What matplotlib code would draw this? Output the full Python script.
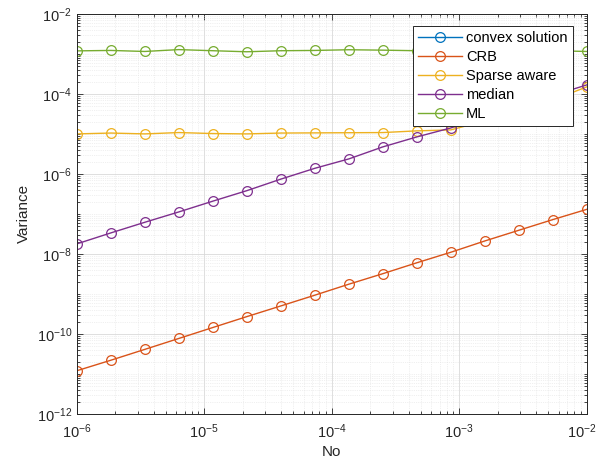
import numpy as np
import matplotlib
matplotlib.use("Agg")
import matplotlib.pyplot as plt
import matplotlib.transforms as mtransforms
from matplotlib.ticker import LogLocator, FixedLocator, NullFormatter

plt.rcParams['font.family'] = ['Liberation Sans', 'DejaVu Sans']
plt.rcParams['mathtext.default'] = 'regular'

No = [1.0e-6, 1.85e-6, 3.41e-6, 6.31e-6, 1.17e-5, 2.15e-5, 3.98e-5, 7.36e-5,
      1.36e-4, 2.51e-4, 4.64e-4, 8.58e-4, 1.58e-3, 2.93e-3, 5.41e-3, 1.0e-2]

# convex solution is not visible in the reference (hidden / no data)
convex = [float('nan')] * 16
crb = [1.2e-11, 2.2e-11, 4.1e-11, 7.7e-11, 1.45e-10, 2.7e-10, 5.0e-10, 9.3e-10,
       1.75e-9, 3.2e-9, 6.0e-9, 1.1e-8, 2.1e-8, 3.9e-8, 7.2e-8, 1.3e-7]
sparse = [1.0e-5, 1.05e-5, 1.0e-5, 1.08e-5, 1.02e-5, 1.0e-5, 1.05e-5, 1.06e-5,
          1.07e-5, 1.08e-5, 1.19e-5, 1.26e-5, 2.1e-5, 3.6e-5, 7.0e-5, 1.5e-4]
median = [1.78e-8, 3.35e-8, 6.17e-8, 1.12e-7, 2.09e-7, 3.8e-7, 7.4e-7, 1.38e-6,
          2.37e-6, 4.73e-6, 8.4e-6, 1.41e-5, 2.69e-5, 5.0e-5, 9.1e-5, 1.68e-4]
ml = [1.19e-3, 1.22e-3, 1.15e-3, 1.28e-3, 1.20e-3, 1.13e-3, 1.20e-3, 1.22e-3,
      1.27e-3, 1.24e-3, 1.20e-3, 1.25e-3, 1.22e-3, 1.18e-3, 1.20e-3, 1.15e-3]

labels = ['convex solution', 'CRB', 'Sparse aware', 'median', 'ML']
colors = ['#0072BD', '#D95319', '#EDB120', '#7E2F8E', '#77AC30']
series = [convex, crb, sparse, median, ml]

fig = plt.figure(figsize=(6.0, 4.63), dpi=100)
ax = fig.add_axes([0.128, 0.106, 0.85, 0.864])

for s, lab, c in zip(series, labels, colors):
    ax.plot(No, s, '-o', color=c, label=lab, lw=1.0, ms=7,
            mfc='none', mec=c, mew=0.9)

ax.set_xscale('log')
ax.set_yscale('log')
ax.set_xlim(1e-6, 1e-2)
ax.set_ylim(1e-12, 1e-2)

ax.xaxis.set_major_locator(FixedLocator([1e-6, 1e-5, 1e-4, 1e-3, 1e-2]))
ax.xaxis.set_minor_locator(LogLocator(base=10, subs=np.arange(2, 10), numticks=50))
ax.xaxis.set_minor_formatter(NullFormatter())
ax.yaxis.set_major_locator(FixedLocator([1e-12, 1e-10, 1e-8, 1e-6, 1e-4, 1e-2]))
ymin = [10.0**e * m for e in range(-12, -2) for m in range(1, 10)
        if not (m == 1 and e % 2 == 0)]
ax.yaxis.set_minor_locator(FixedLocator(ymin))
ax.yaxis.set_minor_formatter(NullFormatter())

ax.grid(True, which='major', color='#d9d9d9', lw=0.6, ls='-')
ax.grid(True, which='minor', color='#e2e2e2', lw=0.5, ls=':')
ax.set_axisbelow(True)

ax.tick_params(which='both', direction='in', top=True, right=True,
               labelsize=10.5, colors='#262626', width=0.6)
ax.tick_params(which='major', length=4)
ax.tick_params(which='minor', length=2)
ax.tick_params(axis='x', pad=6)
for sp in ax.spines.values():
    sp.set_color('#262626')
    sp.set_linewidth(0.7)

ax.set_xlabel('No', fontsize=11, color='#262626', labelpad=3)
ax.set_ylabel('Variance', fontsize=11, color='#262626', labelpad=4)

fig.canvas.draw()
last = ax.get_xticklabels()[-1]
last.set_transform(last.get_transform() +
                   mtransforms.ScaledTranslation(-5 / 100, 0, fig.dpi_scale_trans))

leg = ax.legend(loc='upper right', bbox_to_anchor=(0.972, 0.97), fontsize=10.5,
                frameon=True, fancybox=False, edgecolor='#262626',
                framealpha=1.0, borderpad=0.35, labelspacing=0.34,
                handlelength=3.0, handletextpad=0.3, borderaxespad=0.0)
leg.get_frame().set_linewidth(0.7)

fig.savefig('out.png', dpi=100)
